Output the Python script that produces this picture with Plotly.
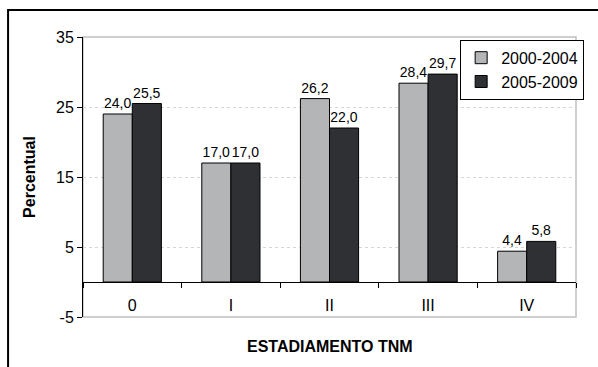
import plotly.graph_objects as go

# Stage distribution (TNM) by diagnosis period, in percent
stages = ["0", "I", "II", "III", "IV"]
period_a = [24.0, 17.0, 26.2, 28.4, 4.4]
period_b = [25.5, 17.0, 22.0, 29.7, 5.8]
series_names = ["2000-2004", "2005-2009"]
y_ticks = [-5, 5, 15, 25, 35]

FONT = "Liberation Sans, Arial, sans-serif"
Y_MIN, Y_MAX = -5, 35


def pt_br(v):
    return f"{v:.1f}".replace(".", ",")


fig = go.Figure()
for name, vals, color in [
    (series_names[0], period_a, "#b3b5b7"),
    (series_names[1], period_b, "#2e3033"),
]:
    fig.add_trace(go.Bar(
        x=stages,
        y=vals,
        name=name,
        marker=dict(color=color, line=dict(color="#000000", width=1)),
        text=[pt_br(v) for v in vals],
        textposition="outside",
        textfont=dict(family=FONT, size=14, color="#000000"),
        constraintext="none",
        cliponaxis=False,
    ))

fig.update_layout(
    width=598,
    height=367,
    margin=dict(l=83, r=22, t=37, b=50),
    paper_bgcolor="#ffffff",
    plot_bgcolor="#ffffff",
    barmode="group",
    bargap=0.41,
    bargroupgap=0,
    font=dict(family=FONT, size=16, color="#000000"),
    showlegend=True,
    legend=dict(
        x=0.765, y=0.99, xanchor="left", yanchor="top",
        bgcolor="#ffffff", bordercolor="#000000", borderwidth=1,
        font=dict(family=FONT, size=16, color="#000000"),
        itemwidth=30,
        tracegroupgap=0,
    ),
    xaxis=dict(
        type="category",
        anchor="free",
        position=(0 - Y_MIN) / (Y_MAX - Y_MIN),
        showline=True, linecolor="#000000", linewidth=1,
        ticks="outside", tickson="boundaries", ticklen=5, tickcolor="#000000",
        ticklabelstandoff=9,
        tickfont=dict(family=FONT, size=16),
        showgrid=False,
        zeroline=False,
    ),
    yaxis=dict(
        range=[Y_MIN, Y_MAX],
        tickvals=y_ticks,
        ticktext=[str(t) for t in y_ticks],
        showline=True, linecolor="#000000", linewidth=1,
        ticks="outside", ticklen=5, tickcolor="#000000",
        tickfont=dict(family=FONT, size=16),
        showgrid=True, gridcolor="#d6d6d6", griddash="dot", gridwidth=1,
        zeroline=False,
        title=dict(text="<b>Percentual</b>", font=dict(family=FONT, size=16), standoff=16),
    ),
    annotations=[
        dict(
            text="<b>ESTADIAMENTO TNM</b>",
            xref="paper", yref="paper", x=0.5, y=-0.104,
            xanchor="center", yanchor="middle", showarrow=False,
            font=dict(family=FONT, size=16, color="#000000"),
        )
    ],
    shapes=[
        # light frame around the plotting area
        dict(type="rect", xref="paper", yref="paper", x0=0, x1=1, y0=0, y1=1,
             line=dict(color="#c0c0c0", width=1.5), layer="below"),
        # outer chart border
        dict(type="rect", xref="paper", yref="paper", x0=-0.152, x1=1.2, y0=-0.5, y1=1.096,
             line=dict(color="#000000", width=2), layer="below"),
    ],
)

fig.write_html("out.html")
